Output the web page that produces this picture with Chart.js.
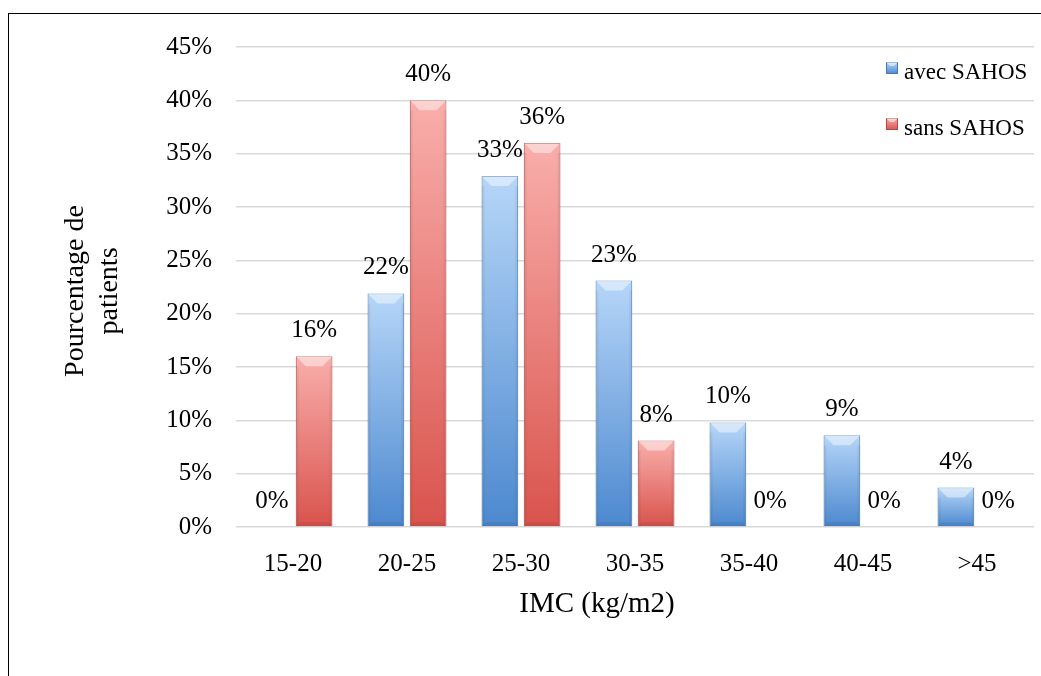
<!DOCTYPE html>
<html>
<head>
<meta charset="utf-8">
<script src="https://cdn.jsdelivr.net/npm/chart.js@4"></script>
<style>
  html, body { margin: 0; padding: 0; background: #fff; overflow: hidden; }
  #cadre { position: absolute; left: 8px; top: 13px; width: 1200px; height: 800px; border: 1.5px solid #000; }
  #graph { position: absolute; left: 0; top: 0; }
</style>
</head>
<body>
<div id="cadre"></div>
<canvas id="graph" width="1041" height="676"></canvas>
<script>
// categories IMC
const categories = ["15-20", "20-25", "25-30", "30-35", "35-40", "40-45", ">45"];
// pourcentages
const avecSahos = [0, 21.9, 32.9, 23.1, 9.8, 8.6, 3.7];
const sansSahos = [16, 40, 36, 8.1, 0, 0, 0];
const yTicks = [0, 5, 10, 15, 20, 25, 30, 35, 40, 45];

const police = "'Liberation Serif', 'Times New Roman', serif";

const couleurs = {
    avec: { haut: "#b6d6f8", bas: "#4c88cf", bord: "#4778b4", plein: "#7fb0e6" },
    sans: { haut: "#f9aeab", bas: "#d9534d", bord: "#b04a46", plein: "#ee8480" }
};

function degrade(c) {
    return function (context) {
        const chart = context.chart;
        if (!chart.chartArea || context.parsed == null) return c.plein;
        const y = chart.scales.y;
        const top = y.getPixelForValue(context.parsed.y);
        const base = y.getPixelForValue(0);
        if (!isFinite(top) || base - top < 1) return c.plein;
        const g = chart.ctx.createLinearGradient(0, top, 0, base);
        g.addColorStop(0, c.haut);
        g.addColorStop(1, c.bas);
        return g;
    };
}

// biseau sur les barres (effet Excel)
const biseau = {
    id: "biseau",
    afterDatasetsDraw(chart) {
        const ctx = chart.ctx;
        chart.data.datasets.forEach((ds, i) => {
            chart.getDatasetMeta(i).data.forEach(bar => {
                const h = bar.base - bar.y;
                if (h < 2) return;
                const l = bar.x - bar.width / 2, r = bar.x + bar.width / 2;
                const t = bar.y, b = bar.base;
                const e = Math.min(10, h / 2);
                ctx.save();
                ctx.fillStyle = "rgba(255,255,255,0.45)";
                ctx.beginPath();
                ctx.moveTo(l, t); ctx.lineTo(r, t); ctx.lineTo(r - e, t + e); ctx.lineTo(l + e, t + e);
                ctx.closePath(); ctx.fill();
                ctx.fillStyle = "rgba(0,0,0,0.07)";
                ctx.beginPath();
                ctx.moveTo(l, b); ctx.lineTo(r, b); ctx.lineTo(r - 4, b - 4); ctx.lineTo(l + 4, b - 4);
                ctx.closePath(); ctx.fill();
                ctx.fillStyle = "rgba(0,0,0,0.05)";
                ctx.fillRect(l, t + e, 3, h - e);
                ctx.fillRect(r - 3, t + e, 3, h - e);
                ctx.restore();
            });
        });
    }
};

// etiquettes de valeurs
const etiquettes = {
    id: "etiquettes",
    afterDatasetsDraw(chart) {
        const ctx = chart.ctx;
        ctx.save();
        ctx.font = "25px " + police;
        ctx.fillStyle = "#000";
        ctx.textAlign = "center";
        ctx.textBaseline = "alphabetic";
        chart.data.datasets.forEach((ds, i) => {
            chart.getDatasetMeta(i).data.forEach((bar, j) => {
                ctx.fillText(Math.round(ds.data[j]) + "%", bar.x, bar.y - 19);
            });
        });
        ctx.restore();
    }
};

// titres des axes et legende
const decor = {
    id: "decor",
    afterDraw(chart) {
        const ctx = chart.ctx;
        const a = chart.chartArea;
        ctx.save();
        ctx.fillStyle = "#000";
        // titre axe Y
        ctx.font = "28px " + police;
        ctx.textAlign = "center";
        ctx.textBaseline = "alphabetic";
        ctx.save();
        ctx.translate(83, (a.top + a.bottom) / 2 + 4);
        ctx.rotate(-Math.PI / 2);
        ctx.fillText("Pourcentage de", 0, 0);
        ctx.fillText("patients", 0, 34);
        ctx.restore();
        // titre axe X
        ctx.font = "29px " + police;
        ctx.fillText("IMC (kg/m2)", 597, a.bottom + 85);
        // legende
        ctx.font = "23px " + police;
        ctx.textAlign = "left";
        const items = [
            { txt: "avec SAHOS", c: couleurs.avec },
            { txt: "sans SAHOS", c: couleurs.sans }
        ];
        items.forEach((it, k) => {
            const bx = a.right - 148, by = a.top + 15 + k * 56;
            const g = ctx.createLinearGradient(0, by, 0, by + 12);
            g.addColorStop(0, it.c.haut);
            g.addColorStop(1, it.c.bas);
            ctx.fillStyle = g;
            ctx.fillRect(bx, by, 12, 12);
            ctx.strokeStyle = it.c.bord;
            ctx.lineWidth = 1;
            ctx.strokeRect(bx + 0.5, by + 0.5, 11, 11);
            ctx.fillStyle = "rgba(255,255,255,0.5)";
            ctx.beginPath();
            ctx.moveTo(bx, by); ctx.lineTo(bx + 12, by); ctx.lineTo(bx + 8, by + 4); ctx.lineTo(bx + 4, by + 4);
            ctx.closePath(); ctx.fill();
            ctx.fillStyle = "#000";
            ctx.fillText(it.txt, bx + 18, by + 17);
        });
        ctx.restore();
    }
};

const ctx = document.getElementById("graph").getContext("2d");
new Chart(ctx, {
    type: "bar",
    data: {
        labels: categories,
        datasets: [
            {
                label: "avec SAHOS",
                data: avecSahos,
                backgroundColor: degrade(couleurs.avec),
                borderColor: couleurs.avec.bord,
                borderWidth: 1,
                categoryPercentage: 0.74,
                barPercentage: 0.87
            },
            {
                label: "sans SAHOS",
                data: sansSahos,
                backgroundColor: degrade(couleurs.sans),
                borderColor: couleurs.sans.bord,
                borderWidth: 1,
                categoryPercentage: 0.74,
                barPercentage: 0.87
            }
        ]
    },
    options: {
        responsive: false,
        animation: false,
        layout: { padding: { top: 47, right: 7, left: 0, bottom: 0 } },
        plugins: {
            legend: { display: false },
            tooltip: { enabled: false }
        },
        scales: {
            x: {
                grid: { display: false },
                border: { display: false },
                ticks: { color: "#000", font: { family: police, size: 25 }, padding: 14 },
                afterFit(scale) { scale.height = 149; }
            },
            y: {
                min: 0,
                max: 45,
                afterBuildTicks(scale) { scale.ticks = yTicks.map(v => ({ value: v })); },
                grid: { color: "#d9d9d9", lineWidth: 1.5, drawTicks: false },
                border: { display: false },
                ticks: {
                    color: "#000",
                    font: { family: police, size: 25 },
                    padding: 24,
                    callback: v => v + "%"
                },
                afterFit(scale) { scale.width = 236; }
            }
        }
    },
    plugins: [biseau, etiquettes, decor]
});
</script>
</body>
</html>
